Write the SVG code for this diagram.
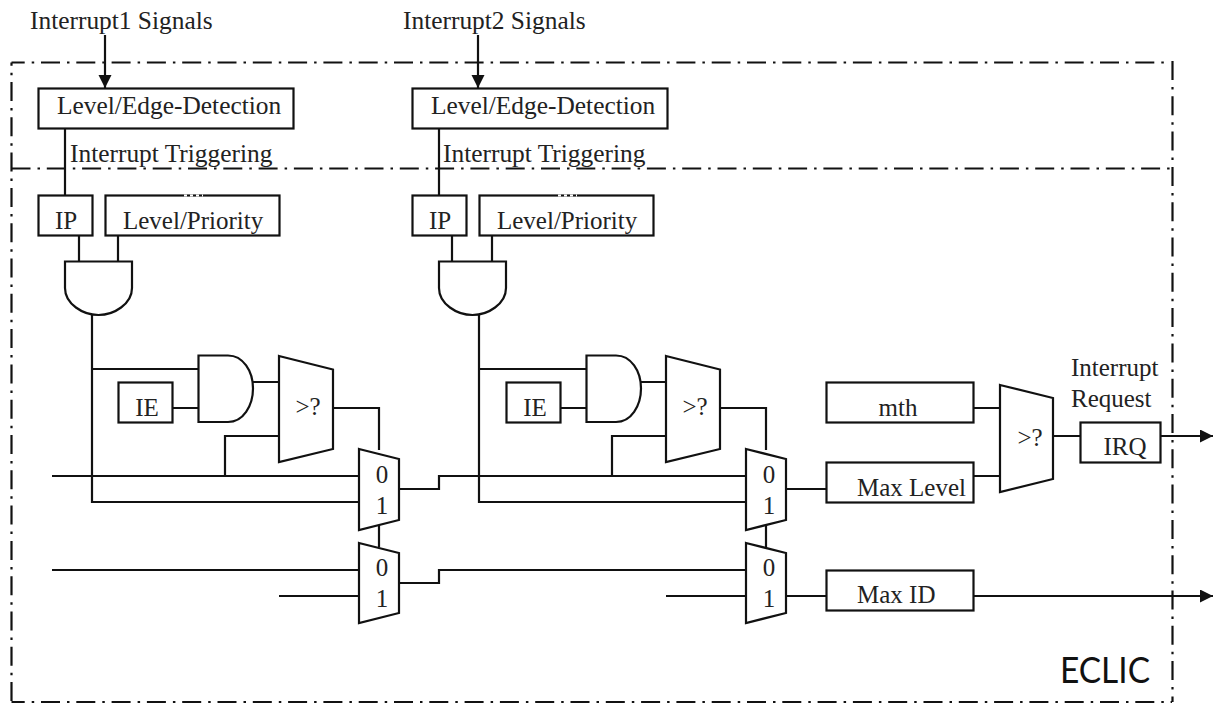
<svg xmlns="http://www.w3.org/2000/svg" width="1216" height="703" viewBox="0 0 1216 703">
<style>
text{font-family:"Liberation Serif","Times New Roman",serif;font-size:25px;fill:#222}
.l{font-size:25.400px}
.b{fill:#fff;stroke:#111;stroke-width:2.200}
.w{fill:none;stroke:#111;stroke-width:2.200}
.d{fill:none;stroke:#111;stroke-width:2.200;stroke-dasharray:19 7 2.500 6.800}
.m{text-anchor:middle}
</style>
<defs>
<marker id="a" markerUnits="userSpaceOnUse" markerWidth="14" markerHeight="14" refX="13" refY="6.500" orient="auto"><path d="M0 0L13 6.500L0 13Z" fill="#111"/></marker>
</defs>
<g id="eclic-boundary">
<path class="d" stroke-dashoffset="5.800" d="M11.500 62.500H1168"/>
<path class="d" stroke-dashoffset="15.800" d="M11.500 62.500V702"/>
<path class="d" stroke-dashoffset="5.800" d="M11.500 702H1172"/>
<path class="d" stroke-dashoffset="0" d="M1172.500 61V702"/>
<path class="d" stroke-dashoffset="0" d="M11.500 168.500H1172"/>
<text x="1060" y="683" textLength="90" lengthAdjust="spacingAndGlyphs" style="font-family:Lato,sans-serif;font-size:36px;fill:#111">ECLIC</text>
</g>
<g id="connectors">
<path class="w" d="M105 35V88" marker-end="url(#a)"/>
<path class="w" d="M478 35V88" marker-end="url(#a)"/>
<path class="w" d="M65 128V195M79 236V261M118 236V261M92 315V502H359M92 369H198M172 408H198M253 382H279M279 436H225V476M333 408H379V450M52 476H359M399 489H439V476H746M379 525V547M52 570H359M279 596H359M399 583H439V570H746"/>
<path class="w" d="M439 128V195M452 236V261M492 236V261M479 315V502H746M479 369H586M560 408H586M641 382H666M666 436H612V476M720 408H766V450M766 525V547M666 596H746"/>
<path class="w" d="M786 489H826M786 596H826M973 408H1000M973 476H1000M1053 436H1080"/>
<path class="w" d="M1160 436H1213" marker-end="url(#a)"/>
<path class="w" d="M973 596H1213" marker-end="url(#a)"/>
</g>
<g id="detect1"><rect class="b" x="38.500" y="88.500" width="255" height="40"/><text class="l" x="57" y="114">Level/Edge-Detection</text></g>
<text class="l" x="30" y="29">Interrupt1 Signals</text>
<text class="l" x="70" y="162">Interrupt Triggering</text>
<g id="ip1"><rect class="b" x="38.500" y="195.500" width="54" height="40"/><text class="m" x="66" y="229">IP</text></g>
<g id="prio1"><rect class="b" x="105.500" y="195.500" width="174" height="40"/><path d="M184 195.500H203" stroke="#fff" stroke-width="2.200" stroke-dasharray="3 3"/><text x="123" y="229">Level/Priority</text></g>
<g id="and1a"><path class="b" d="M65 261.500H132V288C132 304 114 315 98.500 315S65 304 65 288Z"/></g>
<g id="and1b"><path class="b" d="M198.500 355.500H228C243 355.500 253 371 253 388.500S243 422 228 422H198.500Z"/></g>
<g id="ie1"><rect class="b" x="118.500" y="382.500" width="54" height="40"/><text class="m" x="147" y="416">IE</text></g>
<g id="cmp1"><path class="b" d="M279 356L333 369.500V449L279 462Z"/><text class="m" x="308" y="415">&gt;?</text></g>
<g id="mux1a"><path class="b" d="M359 449L399 459V520L359 530Z"/><text class="m" x="382" y="483">0</text><text class="m" x="382" y="514">1</text></g>
<g id="mux1b"><path class="b" d="M359 543L399 553V613L359 623Z"/><text class="m" x="382" y="576">0</text><text class="m" x="382" y="607">1</text></g>
<g id="detect2"><rect class="b" x="412.500" y="88.500" width="255" height="40"/><text class="l" x="431" y="114">Level/Edge-Detection</text></g>
<text class="l" x="403" y="29">Interrupt2 Signals</text>
<text class="l" x="443" y="162">Interrupt Triggering</text>
<g id="ip2"><rect class="b" x="412.500" y="195.500" width="54" height="40"/><text class="m" x="440" y="229">IP</text></g>
<g id="prio2"><rect class="b" x="479.500" y="195.500" width="174" height="40"/><path d="M558 195.500H577" stroke="#fff" stroke-width="2.200" stroke-dasharray="3 3"/><text x="497" y="229">Level/Priority</text></g>
<g id="and2a"><path class="b" d="M439 261.500H506V288C506 304 488 315 472.500 315S439 304 439 288Z"/></g>
<g id="and2b"><path class="b" d="M586.500 355.500H616C631 355.500 641 371 641 388.500S631 422 616 422H586.500Z"/></g>
<g id="ie2"><rect class="b" x="506.500" y="382.500" width="54" height="40"/><text class="m" x="535" y="416">IE</text></g>
<g id="cmp2"><path class="b" d="M666 356L720 369.500V449L666 462Z"/><text class="m" x="695" y="415">&gt;?</text></g>
<g id="mux2a"><path class="b" d="M746 449L786 459V520L746 530Z"/><text class="m" x="769" y="483">0</text><text class="m" x="769" y="514">1</text></g>
<g id="mux2b"><path class="b" d="M746 543L786 553V613L746 623Z"/><text class="m" x="769" y="576">0</text><text class="m" x="769" y="607">1</text></g>
<g id="mth"><rect class="b" x="826.500" y="382.500" width="147" height="40"/><text class="m" x="898" y="416">mth</text></g>
<g id="maxlevel"><rect class="b" x="826.500" y="462.500" width="147" height="40"/><text x="857" y="496">Max Level</text></g>
<g id="maxid"><rect class="b" x="826.500" y="570.500" width="147" height="40"/><text x="857" y="603">Max ID</text></g>
<g id="cmp3"><path class="b" d="M1000 385L1053 398V479L1000 492Z"/><text class="m" x="1030" y="446">&gt;?</text></g>
<g id="irq"><rect class="b" x="1080.500" y="422.500" width="80" height="40"/><text class="m" x="1125" y="455">IRQ</text></g>
<text x="1071" y="376">Interrupt</text>
<text x="1071" y="407">Request</text>
</svg>
